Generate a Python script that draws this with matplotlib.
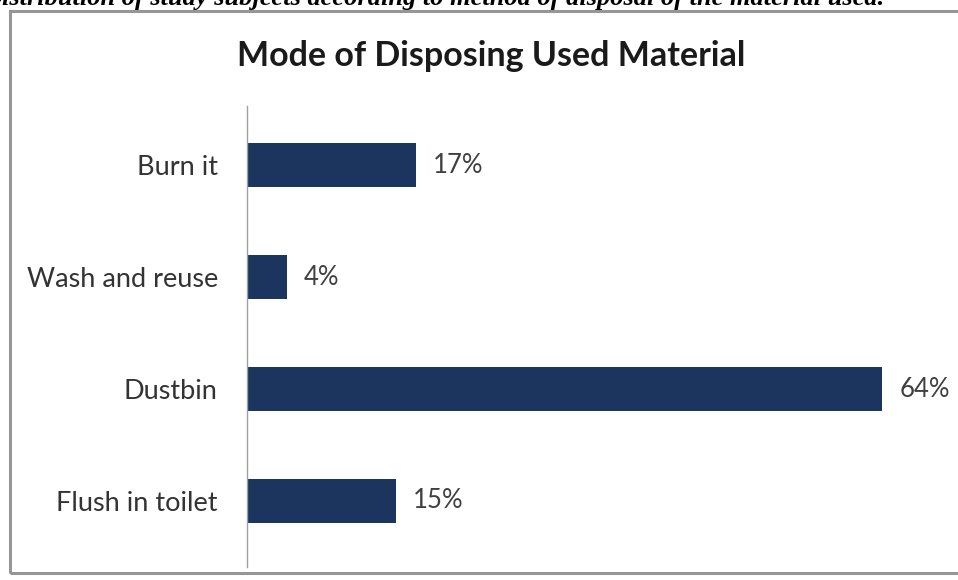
import matplotlib
matplotlib.use("Agg")
import matplotlib.pyplot as plt
from matplotlib.patches import Rectangle

# datos
categorias = ["Burn it", "Wash and reuse", "Dustbin", "Flush in toilet"]
porcentajes = [17, 4, 64, 15]
titulo = "Mode of Disposing Used Material"
leyenda_sup = "Distribution of study subjects according to method of disposal of the material used."

plt.rcParams["font.family"] = ["Lato", "DejaVu Sans"]

W, H = 958, 580
fig = plt.figure(figsize=(W / 100, H / 100), dpi=100)
fig.patch.set_facecolor("white")

# caja del grafico
fig.patches.append(Rectangle((10 / W, 1 - 573 / H), 960 / W, (573 - 11) / H,
                             transform=fig.transFigure, fill=False,
                             edgecolor="#969696", linewidth=2.2))

# texto cortado arriba (asi viene en la imagen original)
fig.text(884 / W, 1 - 5 / H, leyenda_sup, ha="right", va="baseline",
         fontsize=19, fontweight="bold", fontstyle="italic",
         family=["Liberation Serif"], color="black")

fig.text(491 / W, 1 - 56 / H, titulo, ha="center", va="center",
         fontsize=24.5, fontweight="bold", color="#1a1a1a")

ax = fig.add_axes([247 / W, 1 - 567 / H, 703 / W, (567 - 106) / H])
pos = list(range(len(categorias)))
ax.barh(pos, porcentajes, height=0.39, color="#1c355e")
for i, v in zip(pos, porcentajes):
    ax.text(v + 1.7, i, f"{v}%", va="center", ha="left", fontsize=18.5, color="#404040")

ax.set_xlim(0, 70.8)
ax.set_ylim(3.59, -0.53)
ax.set_yticks(pos)
ax.set_yticklabels(categorias, fontsize=19.5, color="#333333")
ax.tick_params(axis="y", length=0, pad=21)
ax.set_xticks([])
for s in ["top", "right", "bottom"]:
    ax.spines[s].set_visible(False)
ax.spines["left"].set_color("#a0a0a0")
ax.spines["left"].set_linewidth(1)
ax.patch.set_alpha(0)

plt.savefig("out.png", dpi=100)
